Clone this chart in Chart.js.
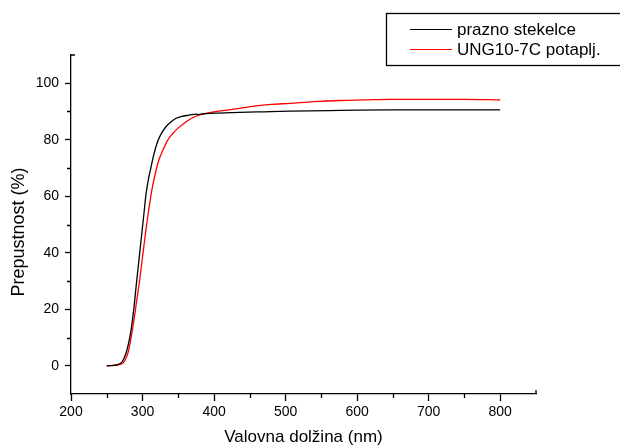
<!DOCTYPE html>
<html>
<head>
<meta charset="utf-8">
<script src="https://cdn.jsdelivr.net/npm/chart.js@4/dist/chart.umd.min.js"></script>
<style>
html,body{margin:0;padding:0;background:#fff;}
#wrap{width:620px;height:446px;position:relative;}
</style>
</head>
<body>
<div id="wrap"><canvas id="c" width="620" height="446"></canvas></div>
<script>
// ---- data ----
const seriesNames = ['prazno stekelce', 'UNG10-7C potaplj.'];
const wavelengthBlack = [250,260,268,272,277,281,284,288,291,295,298,302,305,309,312,316,321,327,333,340,347,355,365,375,378,385,400,436,470,506,560,600,646,700,750,800];
const transBlack      = [0,0.1,0.7,1.6,4.5,8.5,12.7,20.5,28,37.5,44.6,54,61,67,70.5,75,79.3,82.5,84.7,86.4,87.6,88.3,88.7,89.1,88.9,89.2,89.4,89.7,89.9,90.1,90.3,90.5,90.6,90.6,90.6,90.6];
const wavelengthRed   = [250,262,272.5,276,279.6,283,286.6,291,296,300,303,306,310,314,319,323,328.6,335,342.6,350,361,370,380,395,412,435,459,480,506,540,576,610,646,700,750,800];
const transRed        = [0,0.2,0.9,2.2,4.5,8.5,13.9,21.5,30.4,38.5,44.6,50.5,57.5,63.5,69.3,73,76.4,79.8,82.3,84.2,86.4,87.8,88.8,89.7,90.3,91.1,92,92.5,92.9,93.5,93.9,94.1,94.3,94.3,94.3,94.1];
const xTicks = [200,300,400,500,600,700,800];
const yTicks = [0,20,40,60,80,100];
const xMinorTicks = [250,350,450,550,650,750];
const yMinorTicks = [10,30,50,70,90];
const xRange = [200, 850];
const yRange = [-10, 110];
const xTitle = 'Valovna dolžina (nm)';
const yTitle = 'Prepustnost (%)';

const FONT = '"Liberation Sans", Arial, sans-serif';

const toPts = (xs, ys) => xs.map((x, i) => ({x: x, y: ys[i]}));

const extrasPlugin = {
  id: 'extras',
  afterDraw(chart) {
    const ctx = chart.ctx;
    const xs = chart.scales.x, ys = chart.scales.y;
    const ca = chart.chartArea;
    ctx.save();
    ctx.strokeStyle = '#000';
    ctx.lineWidth = 1.3;
    // minor ticks (outward)
    ctx.beginPath();
    xMinorTicks.forEach(v => {
      const px = Math.round(xs.getPixelForValue(v)) + 0.5;
      ctx.moveTo(px, ca.bottom); ctx.lineTo(px, ca.bottom + 4);
    });
    yMinorTicks.forEach(v => {
      const py = Math.round(ys.getPixelForValue(v)) + 0.5;
      ctx.moveTo(ca.left, py); ctx.lineTo(ca.left - 4, py);
    });
    // axis end caps
    ctx.moveTo(ca.left, ca.top); ctx.lineTo(ca.left + 4, ca.top);
    ctx.moveTo(ca.right, ca.bottom); ctx.lineTo(ca.right, ca.bottom - 4);
    ctx.stroke();

    // y axis title
    ctx.save();
    ctx.fillStyle = '#000';
    ctx.font = '18px ' + FONT;
    ctx.textAlign = 'center';
    ctx.textBaseline = 'middle';
    ctx.translate(19, 232);
    ctx.rotate(-Math.PI / 2);
    ctx.fillText(yTitle, 0, 0);
    ctx.restore();

    // legend box
    ctx.lineWidth = 1.3;
    ctx.strokeStyle = '#000';
    ctx.strokeRect(386.5, 13.5, 260, 52);
    ctx.font = '17px ' + FONT;
    ctx.textBaseline = 'middle';
    ctx.textAlign = 'left';
    chart.data.datasets.forEach((ds, i) => {
      const y = 29.5 + i * 20;
      ctx.strokeStyle = ds.borderColor;
      ctx.lineWidth = 1;
      ctx.beginPath();
      ctx.moveTo(410, y); ctx.lineTo(452, y);
      ctx.stroke();
      ctx.fillStyle = '#000';
      ctx.fillText(ds.label, 457, y + 1);
    });
    ctx.restore();
  }
};

new Chart(document.getElementById('c'), {
  type: 'line',
  data: {
    datasets: [
      {label: seriesNames[0], data: toPts(wavelengthBlack, transBlack), borderColor: '#000000', borderWidth: 1.3, pointRadius: 0, cubicInterpolationMode: 'monotone', fill: false},
      {label: seriesNames[1], data: toPts(wavelengthRed, transRed), borderColor: '#ff0000', borderWidth: 1.3, pointRadius: 0, cubicInterpolationMode: 'monotone', fill: false}
    ]
  },
  options: {
    responsive: false,
    animation: false,
    events: [],
    layout: {padding: {left: 0, right: 84, top: 55, bottom: 0}},
    plugins: {legend: {display: false}, tooltip: {enabled: false}, title: {display: false}},
    scales: {
      x: {
        type: 'linear', min: xRange[0], max: xRange[1],
        afterBuildTicks: s => { s.ticks = xTicks.map(v => ({value: v})); },
        afterFit: s => { s.height = 52; },
        grid: {display: true, drawOnChartArea: false, drawTicks: true, tickLength: 7, tickColor: '#000', tickWidth: 1.3},
        border: {display: true, color: '#000', width: 1.3},
        ticks: {color: '#000', font: {family: FONT, size: 14}, padding: 3, maxRotation: 0, autoSkip: false, includeBounds: false},
        title: {display: true, text: xTitle, color: '#000', font: {family: FONT, size: 17}, padding: {top: 0, bottom: -2}}
      },
      y: {
        type: 'linear', min: yRange[0], max: yRange[1],
        afterBuildTicks: s => { s.ticks = yTicks.map(v => ({value: v})); },
        afterFit: s => { s.width = 71; },
        grid: {display: true, drawOnChartArea: false, drawTicks: true, tickLength: 6, tickColor: '#000', tickWidth: 1.3},
        border: {display: true, color: '#000', width: 1.3},
        ticks: {color: '#000', font: {family: FONT, size: 14}, padding: 6, autoSkip: false, includeBounds: false},
        title: {display: false}
      }
    }
  },
  plugins: [extrasPlugin]
});
</script>
</body>
</html>
